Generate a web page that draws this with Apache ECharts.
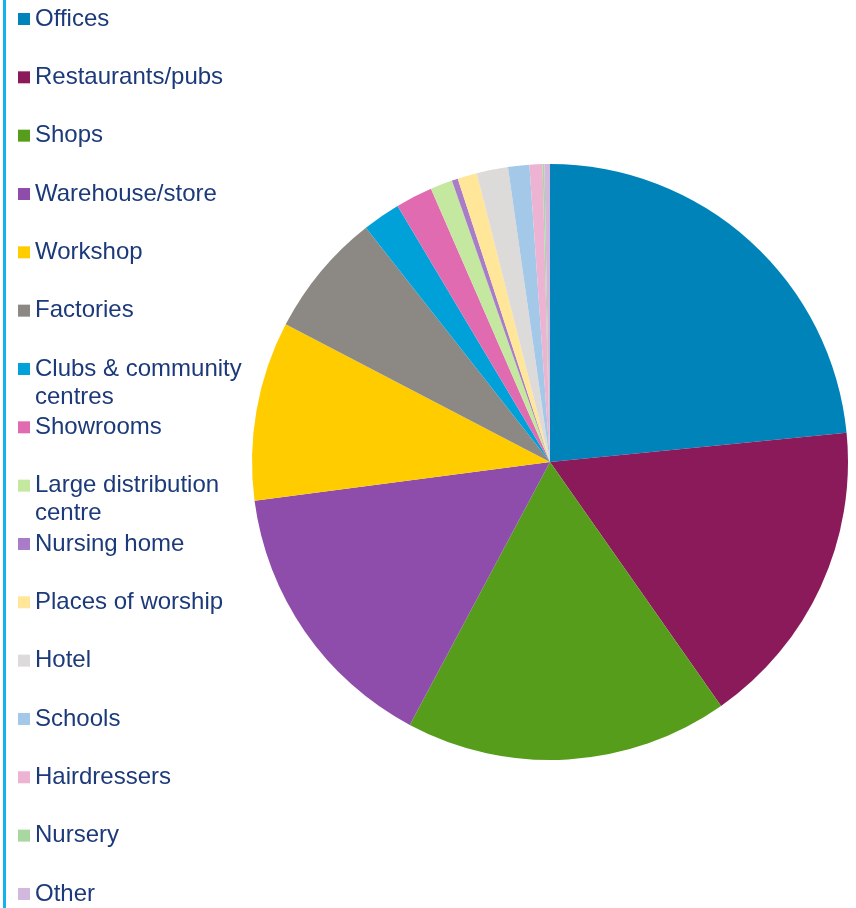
<!DOCTYPE html>
<html>
<head>
<meta charset="utf-8">
<style>
  html, body { margin: 0; padding: 0; background: #ffffff; }
  #chart { width: 856px; height: 908px; }
</style>
<script src="https://cdn.jsdelivr.net/npm/echarts@6/dist/echarts.min.js"></script>
</head>
<body>
<div id="chart"></div>
<script>
// Building uses, share of total (%)
const categories = [
  'Offices', 'Restaurants/pubs', 'Shops', 'Warehouse/store', 'Workshop',
  'Factories', 'Clubs & community centres', 'Showrooms',
  'Large distribution centre', 'Nursing home', 'Places of worship',
  'Hotel', 'Schools', 'Hairdressers', 'Nursery', 'Other'
];
const shares = [
  23.4, 16.8, 17.5, 15.1, 9.7,
  6.75, 2.05, 2.0,
  1.2, 0.33, 1.05,
  1.7, 1.15, 0.7, 0.1, 0.3
];
const sliceColors = [
  '#0083B8', '#8B1A5A', '#579D1C', '#8E4DAB', '#FFCC00',
  '#8C8984', '#00A0D8', '#E06BB0',
  '#C4E8A0', '#A97CC8', '#FFE699',
  '#DDDBD9', '#A3C8E8', '#EDB3D3', '#A8D8A0', '#D2B8DC'
];
// Legend text with the line breaks used in the key
const legendLabels = {
  'Clubs & community centres': 'Clubs & community\ncentres',
  'Large distribution centre': 'Large distribution\ncentre'
};

// Key layout: one row per category, fixed pitch; wrapped rows keep
// the swatch on their first line (blank lines above balance the block
// so the swatch, which is centred on the text, sits beside line one).
const KEY_FIRST = 19, KEY_PITCH = 58.33, KEY_LINE = 28;

const legends = categories.map((name, i) => {
  const label = legendLabels[name] || name;
  const extra = label.split('\n').length - 1;
  const centre = KEY_FIRST + i * KEY_PITCH;
  return {
    orient: 'vertical',
    left: 18,
    top: centre - KEY_LINE / 2 - extra * KEY_LINE,
    icon: 'rect',
    itemWidth: 12,
    itemHeight: 12,
    itemGap: 0,
    padding: 0,
    selectedMode: false,
    data: [name],
    formatter: () => '\n'.repeat(extra) + label,
    textStyle: {
      fontFamily: '"Liberation Sans", Arial, sans-serif',
      fontSize: 24,
      color: '#1C3A7A',
      lineHeight: KEY_LINE
    }
  };
});

const chart = echarts.init(document.getElementById('chart'), null, { renderer: 'canvas' });

chart.setOption({
  animation: false,
  color: sliceColors,
  graphic: [{
    type: 'rect',
    left: 3,
    top: 0,
    shape: { width: 3, height: 908 },
    style: { fill: '#12B2EE' },
    silent: true
  }],
  legend: legends,
  series: [{
    type: 'pie',
    center: [550, 462],
    radius: 298,
    startAngle: 90,
    clockwise: true,
    avoidLabelOverlap: false,
    label: { show: false },
    labelLine: { show: false },
    emphasis: { disabled: true },
    itemStyle: { borderWidth: 0 },
    data: categories.map((name, i) => ({ name, value: shares[i] }))
  }]
});
</script>
</body>
</html>
